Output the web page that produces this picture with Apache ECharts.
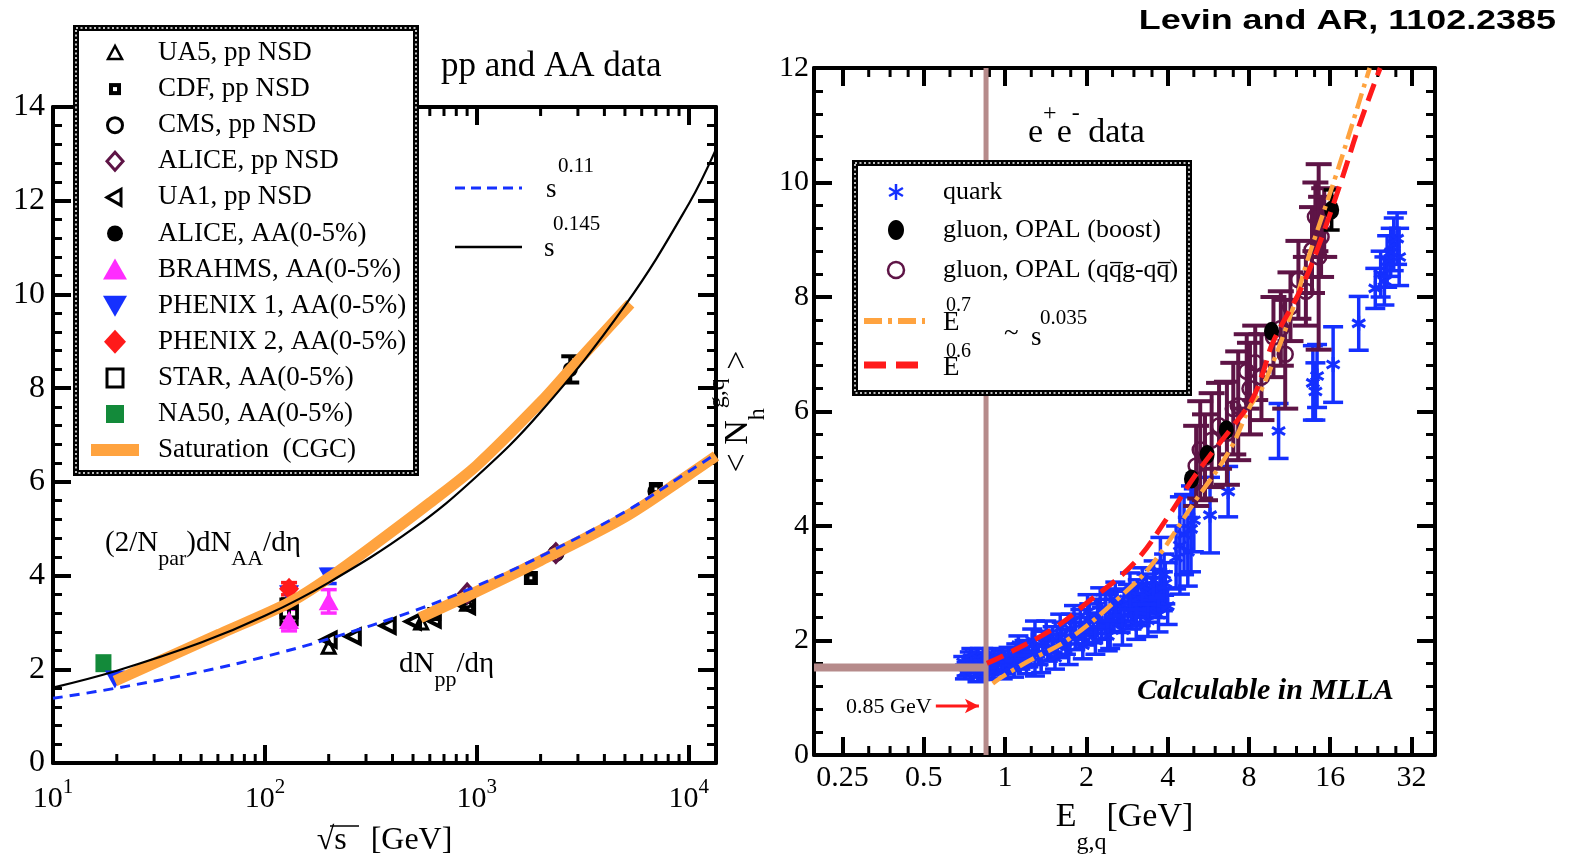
<!DOCTYPE html>
<html><head><meta charset="utf-8"><title>pp and AA data / e+e- data</title>
<script src="https://cdn.jsdelivr.net/npm/echarts@6.0.0/dist/echarts.min.js"></script>
<style>html,body{margin:0;padding:0;background:#fff;}#chart{width:1575px;height:865px;}</style>
</head><body><div id="chart"></div>
<script>
// ---------------- Left panel : pp and AA data ----------------
const leftXMinorTicks = [20,30,40,50,60,70,80,90,200,300,400,500,600,700,800,900,2000,3000,4000,5000,6000,7000,8000,9000];

const curveX  = [10, 20, 50, 100, 200, 500, 1000, 2000, 5000, 10000, 13450];
const s011Y   = [1.38, 1.60, 1.95, 2.27, 2.65, 3.24, 3.78, 4.41, 5.36, 6.22, 6.60];
const s0145Y  = [1.61, 1.97, 2.57, 3.14, 3.85, 5.00, 6.12, 7.49, 9.76, 11.93, 13.10];

const cgcAAX = [19.6, 40, 61, 130, 200, 350, 600, 1000, 2000, 2760, 5300];
const cgcAAY = [1.75, 2.38, 2.75, 3.42, 3.95, 4.75, 5.55, 6.35, 7.70, 8.40, 9.80];
const cgcPPX = [540, 1000, 2000, 5000, 10000, 13450];
const cgcPPY = [3.10, 3.66, 4.32, 5.25, 6.15, 6.55];

const ua5     = [[200, 2.48], [546, 3.00], [900, 3.40]];
const cdf     = [[630, 3.18], [1800, 3.95], [7000, 5.85]];
const cms     = [[900, 3.48], [2360, 4.47], [7000, 5.80]];
const alicePP = [[900, 3.62], [2360, 4.48]];
const ua1     = [[200, 2.63], [260, 2.70], [380, 2.93], [500, 3.02], [620, 3.06], [900, 3.35]];
const aliceAA = [[2760, 8.40, 0.28]];
const brahms  = [[130, 3.05, 0.23], [200, 3.45, 0.25]];
const phenix1 = [[19.6, 1.78, 0], [130, 3.60, 0], [200, 3.98, 0.15]];
const phenix2 = [[130, 3.72, 0.13]];
const star    = [[130, 3.30, 0.20], [130, 3.15, 0.15]];
const na50    = [[17.3, 2.13]];

const leftLegendLabels = ['UA5, pp NSD','CDF, pp NSD','CMS, pp NSD','ALICE, pp NSD','UA1, pp NSD',
  'ALICE, AA(0-5%)','BRAHMS, AA(0-5%)','PHENIX 1, AA(0-5%)','PHENIX 2, AA(0-5%)','STAR, AA(0-5%)',
  'NA50, AA(0-5%)','Saturation  (CGC)'];

// ---------------- Right panel : e+e- data ----------------
const rightXMinorTicks = [0.3125,0.375,0.4375,0.625,0.75,0.875,1.25,1.5,1.75,2.5,3,3.5,5,6,7,10,12,14,20,24,28];

// quark: [E, <N>, error]
const quark = [
 [0.70,1.62,0.10],[0.72,1.50,0.12],[0.74,1.70,0.10],[0.76,1.56,0.12],[0.78,1.64,0.10],[0.80,1.48,0.12],
 [0.82,1.68,0.10],[0.84,1.58,0.12],[0.86,1.52,0.12],[0.88,1.66,0.10],[0.90,1.46,0.12],[0.93,1.60,0.14],
 [0.96,1.70,0.12],[1.00,1.56,0.14],[1.03,1.74,0.14],[1.06,1.62,0.14],[1.10,1.78,0.16],[1.14,1.66,0.16],
 [1.18,1.84,0.16],[1.22,1.72,0.18],[1.29,1.86,0.48],[1.33,1.76,0.18],[1.38,1.96,0.20],[1.44,1.84,0.20],
 [1.50,2.02,0.22],[1.56,1.90,0.20],[1.62,2.10,0.22],[1.68,1.98,0.22],[1.75,2.20,0.26],[1.82,2.08,0.24],
 [1.90,2.28,0.26],[1.98,2.16,0.24],[2.05,2.36,0.28],[2.12,2.22,0.26],[2.20,2.42,0.30],[2.28,2.30,0.28],
 [2.36,2.50,0.30],[2.45,2.36,0.50],[2.52,2.44,0.28],[2.60,2.60,0.30],[2.68,2.40,0.26],[2.76,2.56,0.30],
 [2.85,2.66,0.32],[2.94,2.48,0.28],[3.02,2.62,0.30],[3.10,2.74,0.32],[3.18,2.54,0.28],[3.26,2.70,0.30],
 [3.34,2.82,0.34],[3.42,2.62,0.30],[3.50,2.78,0.32],[3.58,2.90,0.34],[3.66,2.70,0.30],[3.76,3.20,0.60],
 [3.84,2.86,0.34],[3.92,3.00,0.36],
 [0.71,1.45,0.12],[0.75,1.76,0.10],[0.79,1.40,0.12],[0.83,1.76,0.10],[0.87,1.42,0.10],[0.91,1.74,0.12],
 [0.98,1.45,0.12],[1.08,1.50,0.14],[1.12,1.92,0.16],[1.20,1.58,0.16],[1.26,2.00,0.20],[1.36,1.62,0.18],
 [1.42,2.12,0.22],[1.53,1.70,0.20],[1.60,2.22,0.24],[1.72,1.80,0.22],[1.80,2.35,0.26],[1.94,1.92,0.24],
 [2.02,2.50,0.30],[2.16,2.00,0.24],[2.25,2.62,0.30],[2.40,2.08,0.26],[2.56,2.72,0.30],[2.72,2.18,0.26],
 [2.90,2.86,0.32],[3.06,2.28,0.26],[3.22,2.95,0.32],[3.38,2.35,0.28],[3.55,3.05,0.34],[3.70,2.45,0.30],
 [3.88,3.15,0.36],[4.00,2.60,0.32],
 [4.30,3.45,0.55],[4.44,3.66,0.85],[4.60,3.85,0.70],[4.75,3.55,0.60],[4.88,3.95,0.75],[5.00,4.10,0.55],
 [5.74,4.19,0.66],[6.70,4.60,0.44],[10.3,5.66,0.48],[13.8,6.50,0.65],[14.1,6.35,0.50],[14.3,6.62,0.55],
 [16.4,6.82,0.66],[20.4,7.54,0.47],[23.5,8.15,0.35],[24.6,8.40,0.40],[25.4,8.28,0.42],[26.0,8.62,0.45],
 [26.8,8.78,0.42],[27.5,8.92,0.46],[28.3,9.02,0.45],[28.8,8.70,0.50]
];
// gluon, OPAL (boost): [E, <N>, error]
const gluonBoost = [[4.9,4.82,0],[5.6,5.25,0],[6.6,5.68,0],[9.7,7.40,0],[16.2,9.52,0.35]];
// gluon, OPAL (qqg-qq): [E, <N>, error]
const gluonQQG = [
 [5.10,5.05,0.70],[5.28,5.33,0.85],[5.50,5.20,0.75],[5.82,5.50,0.82],[6.20,5.75,0.75],[6.63,5.62,0.90],
 [7.00,6.05,0.80],[7.30,6.10,0.95],[7.85,6.70,0.65],[8.07,6.40,0.80],[8.44,6.85,0.65],[8.90,6.60,0.75],
 [9.86,7.30,0.70],[10.5,7.45,0.65],[10.9,7.00,0.95],[11.4,7.83,0.60],[12.2,8.30,0.68],[13.0,8.10,0.60],
 [13.7,8.82,0.75],[14.1,9.40,0.60],[14.5,8.70,1.62],[14.8,9.05,0.70],[15.2,9.30,0.60]
];
// fits
const e07X = [0.90, 0.956, 1.2, 1.74, 2.59, 3.5, 5.0, 6.8, 8.1, 9.0, 11.7, 13.2, 16.9, 18.5, 22.4];
const e07Y = [1.25, 1.34, 1.62, 2.04, 2.71, 3.33, 4.40, 5.33, 6.10, 6.43, 7.83, 8.65, 10.16, 10.74, 12.0];
const e06X = [0.856, 1.0, 1.5, 2.0, 3.0, 4.0, 5.0, 6.0, 7.0, 8.2, 9.0, 9.8, 12.4, 14.3, 17.5, 20.5, 24.5];
const e06Y = [1.60, 1.75, 2.20, 2.65, 3.35, 4.15, 4.85, 5.35, 5.75, 6.20, 6.67, 7.20, 8.12, 8.82, 10.0, 11.0, 12.0];
// 0.85 GeV cut-off lines and arrow
const cutVert  = [[0.85, 0], [0.85, 12]];
const cutHoriz = [[0.196, 1.53], [0.85, 1.53]];
const arrowPts = [[0.554, 0.856], [0.80, 0.856]];

const rightLegendLabels = ['quark', 'gluon, OPAL (boost)', 'gluon, OPAL (qq\u0305g-qq\u0305)'];

// ---------------- helpers ----------------
const SERIF = '"Liberation Serif", "Times New Roman", serif';
const BLK = '#000';
const ORANGE = '#ffa33f', BLUE = '#1530ff', RED = '#ff1a1a', MAG = '#ff2cff', PURP = '#5e1446', GREEN = '#138a3a', BROWN = '#b68b8b';
function zip(xs, ys) { return xs.map((x, i) => [x, ys[i]]); }

function decadeLabel(v) {
  const l = Math.log10(v), e = Math.round(l);
  if (Math.abs(l - e) > 1e-6) return '';
  return '{b|10}{s|' + e + '}';
}
function octaveLabel(v) {
  const l = Math.log2(v), e = Math.round(l);
  if (Math.abs(l - e) > 1e-6) return '';
  return String(+Math.pow(2, e).toPrecision(6));
}
function tickRenderer(len, w) {
  return function (params, api) {
    const x = api.coord([api.value(0), api.value(1)])[0];
    const cs = params.coordSys;
    const st = { stroke: BLK, lineWidth: w };
    return { type: 'group', children: [
      { type: 'line', shape: { x1: x, y1: cs.y + cs.height, x2: x, y2: cs.y + cs.height - len }, style: st },
      { type: 'line', shape: { x1: x, y1: cs.y, x2: x, y2: cs.y + len }, style: st }
    ]};
  };
}
function errRenderer(color, cap, lw, marker) {
  return function (params, api) {
    const x = api.value(0), y = api.value(1), e = api.value(2);
    const c = api.coord([x, y]);
    const ch = [];
    const st = { stroke: color, lineWidth: lw };
    if (e > 0) {
      const t = api.coord([x, y + e])[1], b = api.coord([x, y - e])[1];
      ch.push({ type: 'line', shape: { x1: c[0], y1: t, x2: c[0], y2: b }, style: st });
      ch.push({ type: 'line', shape: { x1: c[0] - cap, y1: t, x2: c[0] + cap, y2: t }, style: st });
      ch.push({ type: 'line', shape: { x1: c[0] - cap, y1: b, x2: c[0] + cap, y2: b }, style: st });
    }
    if (marker === 'star') {
      [90, 30, 150].forEach(function (a) {
        const r = a * Math.PI / 180, d = 7.5;
        ch.push({ type: 'line', shape: { x1: c[0] - d * Math.cos(r), y1: c[1] - d * Math.sin(r), x2: c[0] + d * Math.cos(r), y2: c[1] + d * Math.sin(r) }, style: { stroke: color, lineWidth: 3 } });
      });
    } else if (marker === 'ocircle') {
      ch.push({ type: 'circle', shape: { cx: c[0], cy: c[1], r: 7.5 }, style: { fill: 'none', stroke: color, lineWidth: 2.5 } });
    }
    return { type: 'group', children: ch };
  };
}
function errSeries(data, color, xi, yi, cap, lw, marker) {
  return { type: 'custom', xAxisIndex: xi, yAxisIndex: yi, silent: true, dimensions: ['x', 'y', 'e'],
    encode: { x: 0, y: 1 }, data: data, renderItem: errRenderer(color, cap, lw, marker) };
}
function scat(data, symbol, size, fill, stroke, bw, rot, xi, yi) {
  return { type: 'scatter', xAxisIndex: xi, yAxisIndex: yi, silent: true, data: data.map(d => [d[0], d[1]]),
    symbol: symbol, symbolSize: size, symbolRotate: rot || 0,
    itemStyle: { color: fill, borderColor: stroke, borderWidth: bw, opacity: 1 } };
}
const axisLine = { onZero: false, lineStyle: { color: BLK, width: 4 } };
const majorTick = { inside: true, length: 18, lineStyle: { color: BLK, width: 4 } };
const minorTickY = { show: true, splitNumber: 5, length: 9, lineStyle: { color: BLK, width: 3 } };

// ---------------- graphic (legends, annotations) ----------------
const G = [];
function txt(x, y, text, font, extra) {
  const o = { type: 'text', z: 102, x: x, y: y, style: Object.assign({ text: text, font: font, fill: BLK, align: 'left', verticalAlign: 'middle' }, extra || {}) };
  G.push(o); return o;
}
function legendBox(x, y, w, h) {
  G.push({ type: 'rect', z: 100, shape: { x: x, y: y, width: w, height: h }, style: { fill: '#fff', stroke: BLK, lineWidth: 6 } });
  G.push({ type: 'rect', z: 101, shape: { x: x, y: y, width: w, height: h }, style: { fill: 'none', stroke: '#fff', lineWidth: 1.5, lineDash: [2, 2.5] } });
}
// left legend
legendBox(76, 28, 340, 445);
const LX = 115, LT = 158, LY0 = 53, LDY = 36.1;
leftLegendLabels.forEach(function (t, i) { txt(LT, LY0 + LDY * i, t, '27px ' + SERIF); });
(function () {
  const y = i => LY0 + LDY * i;
  const P = (pts, st) => G.push({ type: 'polygon', z: 102, shape: { points: pts }, style: st });
  P([[LX, y(0) - 7], [LX - 7, y(0) + 6], [LX + 7, y(0) + 6]], { fill: 'none', stroke: BLK, lineWidth: 2.5 });
  G.push({ type: 'rect', z: 102, shape: { x: LX - 6, y: y(1) - 6, width: 12, height: 12 }, style: { fill: BLK } });
  G.push({ type: 'rect', z: 103, shape: { x: LX - 2, y: y(1) - 2, width: 4, height: 4 }, style: { fill: '#fff' } });
  G.push({ type: 'circle', z: 102, shape: { cx: LX, cy: y(2), r: 7.5 }, style: { fill: 'none', stroke: BLK, lineWidth: 3 } });
  P([[LX, y(3) - 9], [LX + 8, y(3)], [LX, y(3) + 9], [LX - 8, y(3)]], { fill: 'none', stroke: PURP, lineWidth: 3 });
  P([[LX - 8, y(4)], [LX + 6, y(4) - 8], [LX + 6, y(4) + 8]], { fill: 'none', stroke: BLK, lineWidth: 3 });
  G.push({ type: 'circle', z: 102, shape: { cx: LX, cy: y(5), r: 8 }, style: { fill: BLK } });
  P([[LX, y(6) - 11], [LX - 12, y(6) + 10], [LX + 12, y(6) + 10]], { fill: MAG });
  P([[LX - 12, y(7) - 10], [LX + 12, y(7) - 10], [LX, y(7) + 11]], { fill: BLUE });
  P([[LX, y(8) - 12], [LX + 11, y(8)], [LX, y(8) + 12], [LX - 11, y(8)]], { fill: RED });
  G.push({ type: 'rect', z: 102, shape: { x: LX - 8, y: y(9) - 9, width: 16, height: 18 }, style: { fill: 'none', stroke: BLK, lineWidth: 3 } });
  G.push({ type: 'rect', z: 102, shape: { x: LX - 9, y: y(10) - 9, width: 18, height: 18 }, style: { fill: GREEN } });
  G.push({ type: 'line', z: 102, shape: { x1: 91, y1: y(11), x2: 139, y2: y(11) }, style: { stroke: ORANGE, lineWidth: 12 } });
})();
// curve keys (left)
G.push({ type: 'line', z: 102, shape: { x1: 455, y1: 188, x2: 522, y2: 188 }, style: { stroke: BLUE, lineWidth: 3, lineDash: [10, 6] } });
G.push({ type: 'line', z: 102, shape: { x1: 455, y1: 247, x2: 522, y2: 247 }, style: { stroke: BLK, lineWidth: 2.5 } });
txt(546, 190, 's', '27px ' + SERIF);
txt(558, 166, '0.11', '21px ' + SERIF);
txt(544, 249, 's', '27px ' + SERIF);
txt(553, 224, '0.145', '21px ' + SERIF);
txt(441, 67, 'pp and AA data', '35px ' + SERIF);
txt(105, 543, '{a|(2/N}{b|par}{a|)dN}{b|AA}{a|/dη}', '28px ' + SERIF, {
  rich: { a: { fontSize: 29, fontFamily: SERIF, verticalAlign: 'middle' }, b: { fontSize: 22, fontFamily: SERIF, verticalAlign: 'middle', padding: [32, 0, 0, 0] } } });
txt(399, 664, '{a|dN}{b|pp}{a|/dη}', '28px ' + SERIF, {
  rich: { a: { fontSize: 29, fontFamily: SERIF, verticalAlign: 'middle' }, b: { fontSize: 22, fontFamily: SERIF, verticalAlign: 'middle', padding: [32, 0, 0, 0] } } });
G.push({ type: 'line', z: 102, shape: { x1: 330, y1: 826, x2: 359, y2: 826 }, style: { stroke: BLK, lineWidth: 1.5 } });

// right legend
legendBox(855, 163, 334, 230);
const RX = 896, RT = 943;
txt(RT, 192, rightLegendLabels[0], '26px ' + SERIF);
txt(RT, 230, rightLegendLabels[1], '26px ' + SERIF);
txt(RT, 270, rightLegendLabels[2], '26px ' + SERIF);
[90, 30, 150].forEach(function (a) {
  const r = a * Math.PI / 180, d = 8;
  G.push({ type: 'line', z: 102, shape: { x1: RX - d * Math.cos(r), y1: 192 - d * Math.sin(r), x2: RX + d * Math.cos(r), y2: 192 + d * Math.sin(r) }, style: { stroke: BLUE, lineWidth: 2.5 } });
});
G.push({ type: 'ellipse', z: 102, shape: { cx: RX, cy: 230, rx: 8, ry: 10 }, style: { fill: BLK } });
G.push({ type: 'circle', z: 102, shape: { cx: RX, cy: 270, r: 8 }, style: { fill: 'none', stroke: PURP, lineWidth: 2.5 } });
G.push({ type: 'line', z: 102, shape: { x1: 864, y1: 321, x2: 925, y2: 321 }, style: { stroke: ORANGE, lineWidth: 6, lineDash: [18, 6, 4, 6] } });
G.push({ type: 'line', z: 102, shape: { x1: 864, y1: 365, x2: 925, y2: 365 }, style: { stroke: RED, lineWidth: 7, lineDash: [22, 10] } });
txt(RT, 323, 'E', '27px ' + SERIF);
txt(946, 306, '0.7', '20px ' + SERIF);
txt(RT, 368, 'E', '27px ' + SERIF);
txt(946, 352, '0.6', '20px ' + SERIF);
txt(1004, 334, '~', '27px ' + SERIF);
txt(1031, 338, 's', '27px ' + SERIF);
txt(1040, 318, '0.035', '21px ' + SERIF);
txt(1028, 133, '{a|e}{s|+}{a|e}{s|-}{a| data}', '34px ' + SERIF, {
  rich: { a: { fontSize: 34, fontFamily: SERIF, verticalAlign: 'middle' }, s: { fontSize: 24, fontFamily: SERIF, verticalAlign: 'middle', padding: [0, 0, 38, 0] } } });
txt(846, 707, '0.85 GeV', '22px ' + SERIF);
txt(1137, 691, 'Calculable in MLLA', 'italic bold 30px ' + SERIF);
G.push({ type: 'text', z: 102, x: 1556, y: 22, scaleX: 1.33, style: { text: 'Levin and AR, 1102.2385', font: 'bold 27px "Liberation Sans", Arial, sans-serif', fill: BLK, align: 'right', verticalAlign: 'middle' } });

// ---------------- option ----------------
const option = {
  animation: false,
  backgroundColor: '#fff',
  grid: [
    { left: 53, top: 107, width: 663, height: 656, outerBoundsMode: 'none' },
    { left: 814, top: 68, width: 621, height: 687, outerBoundsMode: 'none' }
  ],
  xAxis: [
    { gridIndex: 0, type: 'log', logBase: 10, min: 10, max: 13450, position: 'bottom',
      axisLine: axisLine, axisTick: majorTick, splitLine: { show: false },
      axisLabel: { margin: 14, formatter: decadeLabel, color: BLK,
        rich: { b: { fontSize: 30, fontFamily: SERIF, color: BLK, verticalAlign: 'middle' },
                s: { fontSize: 21, fontFamily: SERIF, color: BLK, verticalAlign: 'middle', padding: [0, 0, 24, 0] } } },
      name: '√s   [GeV]', nameLocation: 'middle', nameGap: 62,
      nameTextStyle: { fontSize: 32, fontFamily: SERIF, color: BLK } },
    { gridIndex: 0, type: 'log', logBase: 10, min: 10, max: 13450, position: 'top',
      axisLine: axisLine, axisTick: majorTick, axisLabel: { show: false }, splitLine: { show: false } },
    { gridIndex: 1, type: 'log', logBase: 2, min: 0.196, max: 39.1, position: 'bottom',
      axisLine: axisLine, axisTick: majorTick, splitLine: { show: false },
      axisLabel: { margin: 8, formatter: octaveLabel, fontSize: 30, fontFamily: SERIF, color: BLK },
      name: '{a|E}{b|g,q}{a|[GeV]}', nameLocation: 'middle', nameGap: 24,
      nameTextStyle: { color: BLK, rich: {
        a: { fontSize: 34, fontFamily: SERIF, color: BLK, verticalAlign: 'middle' },
        b: { fontSize: 24, fontFamily: SERIF, color: BLK, verticalAlign: 'middle', padding: [52, 0, 0, 0] } } } },
    { gridIndex: 1, type: 'log', logBase: 2, min: 0.196, max: 39.1, position: 'top',
      axisLine: axisLine, axisTick: majorTick, axisLabel: { show: false }, splitLine: { show: false } }
  ],
  yAxis: [
    { gridIndex: 0, type: 'value', min: 0, max: 14, interval: 2, position: 'left',
      axisLine: axisLine, axisTick: majorTick, minorTick: minorTickY, splitLine: { show: false }, minorSplitLine: { show: false },
      axisLabel: { margin: 8, fontSize: 32, fontFamily: SERIF, color: BLK } },
    { gridIndex: 0, type: 'value', min: 0, max: 14, interval: 2, position: 'right',
      axisLine: axisLine, axisTick: majorTick, minorTick: minorTickY, splitLine: { show: false }, axisLabel: { show: false } },
    { gridIndex: 1, type: 'value', min: 0, max: 12, interval: 2, position: 'left',
      axisLine: axisLine, axisTick: majorTick, minorTick: minorTickY, splitLine: { show: false },
      axisLabel: { margin: 5, fontSize: 30, fontFamily: SERIF, color: BLK },
      name: '{a|< N}{b|h}{c|g,q}{a| >}', nameLocation: 'middle', nameRotate: 90, nameGap: 44,
      nameTextStyle: { color: BLK, rich: {
        a: { fontSize: 34, fontFamily: SERIF, color: BLK, verticalAlign: 'middle' },
        b: { fontSize: 24, fontFamily: SERIF, color: BLK, verticalAlign: 'middle', padding: [40, 0, 0, 0] },
        c: { fontSize: 24, fontFamily: SERIF, color: BLK, verticalAlign: 'middle', padding: [0, 0, 40, 0] } } } },
    { gridIndex: 1, type: 'value', min: 0, max: 12, interval: 2, position: 'right',
      axisLine: axisLine, axisTick: majorTick, minorTick: minorTickY, splitLine: { show: false }, axisLabel: { show: false } }
  ],
  graphic: { elements: G },
  series: [
    // ----- left panel -----
    { type: 'custom', name: 'minor ticks', xAxisIndex: 0, yAxisIndex: 0, silent: true, encode: { x: 0, y: 1 },
      data: leftXMinorTicks.map(v => [v, 0]), renderItem: tickRenderer(9, 3) },
    { type: 'line', name: 'Saturation (CGC) AA', xAxisIndex: 0, yAxisIndex: 0, data: zip(cgcAAX, cgcAAY), smooth: 0.3,
      showSymbol: false, lineStyle: { color: ORANGE, width: 11 }, silent: true },
    { type: 'line', name: 'Saturation (CGC) pp', xAxisIndex: 0, yAxisIndex: 0, data: zip(cgcPPX, cgcPPY), smooth: 0.3,
      showSymbol: false, lineStyle: { color: ORANGE, width: 11 }, silent: true },
    { type: 'line', name: 's^0.11', xAxisIndex: 0, yAxisIndex: 0, data: zip(curveX, s011Y), smooth: 0.4,
      showSymbol: false, lineStyle: { color: BLUE, width: 3, type: [10, 7] }, silent: true },
    { type: 'line', name: 's^0.145', xAxisIndex: 0, yAxisIndex: 0, data: zip(curveX, s0145Y), smooth: 0.4,
      showSymbol: false, lineStyle: { color: BLK, width: 2.2 }, silent: true },
    errSeries(aliceAA, BLK, 0, 0, 9, 4),
    errSeries(brahms, MAG, 0, 0, 8, 3.5),
    errSeries(phenix1, BLUE, 0, 0, 8, 3.5),
    errSeries(phenix2, RED, 0, 0, 8, 3.5),
    errSeries(star, BLK, 0, 0, 8, 3.5),
    scat(na50, 'rect', [16, 18], GREEN, GREEN, 0, 0, 0, 0),
    scat(star, 'rect', [16, 18], 'rgba(0,0,0,0)', BLK, 3.5, 0, 0, 0),
    scat(ua1, 'triangle', 14, 'rgba(0,0,0,0)', BLK, 4, 90, 0, 0),
    scat(ua5, 'triangle', 13, 'rgba(0,0,0,0)', BLK, 3, 0, 0, 0),
    scat(cdf, 'path://M0,0H10V10H0Z M4,4V6H6V4Z', 14, BLK, BLK, 0, 0, 0, 0),
    scat(cms, 'circle', 14, 'rgba(0,0,0,0)', BLK, 3, 0, 0, 0),
    scat(alicePP, 'diamond', [16, 18], 'rgba(0,0,0,0)', PURP, 3.5, 0, 0, 0),
    scat(aliceAA, 'circle', 15, BLK, BLK, 0, 0, 0, 0),
    scat(brahms, 'triangle', [20, 18], MAG, MAG, 0, 0, 0, 0),
    scat(phenix1, 'triangle', [20, 18], BLUE, BLUE, 0, 180, 0, 0),
    scat(phenix2, 'diamond', [20, 22], RED, RED, 0, 0, 0, 0),
    // ----- right panel -----
    { type: 'custom', name: 'minor ticks', xAxisIndex: 2, yAxisIndex: 2, silent: true, encode: { x: 0, y: 1 },
      data: rightXMinorTicks.map(v => [v, 0]), renderItem: tickRenderer(9, 3) },
    { type: 'line', name: 'cut vertical', xAxisIndex: 2, yAxisIndex: 2, data: cutVert, showSymbol: false,
      lineStyle: { color: BROWN, width: 5 }, silent: true },
    { type: 'line', name: 'cut horizontal', xAxisIndex: 2, yAxisIndex: 2, data: cutHoriz, showSymbol: false,
      lineStyle: { color: BROWN, width: 8 }, silent: true },
    { type: 'line', name: 'arrow', xAxisIndex: 2, yAxisIndex: 2, silent: true,
      data: [{ value: arrowPts[0], symbol: 'none' }, { value: arrowPts[1], symbol: 'arrow', symbolSize: [11, 14], symbolRotate: -90 }],
      showSymbol: true, itemStyle: { color: RED }, lineStyle: { color: RED, width: 3 } },
    errSeries(quark, BLUE, 2, 2, 10, 3.5, 'star'),
    errSeries(gluonQQG, PURP, 2, 2, 13, 4, 'ocircle'),
    errSeries(gluonBoost, BLK, 2, 2, 8, 3.5),
    scat(gluonBoost, 'circle', [15, 19], BLK, BLK, 0, 0, 2, 2),
    { type: 'line', name: 'E^0.7', xAxisIndex: 2, yAxisIndex: 2, data: zip(e07X, e07Y), smooth: 0.4, showSymbol: false,
      lineStyle: { color: ORANGE, width: 4.5, type: [16, 6, 4, 6] }, silent: true },
    { type: 'line', name: 'E^0.6', xAxisIndex: 2, yAxisIndex: 2, data: zip(e06X, e06Y), smooth: 0.4, showSymbol: false,
      lineStyle: { color: RED, width: 5, type: [18, 9] }, silent: true }
  ]
};
const chart = echarts.init(document.getElementById('chart'), null, { renderer: 'canvas' });
chart.setOption(option);
</script></body></html>
